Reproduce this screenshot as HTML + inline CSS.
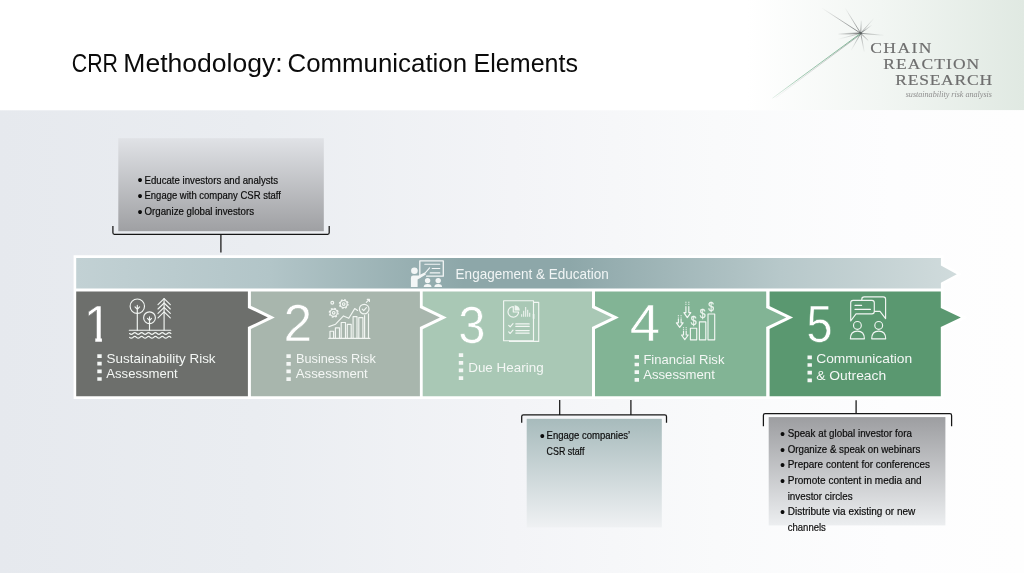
<!DOCTYPE html>
<html lang="en">
<head>
<meta charset="utf-8">
<title>CRR Methodology: Communication Elements</title>
<style>
html,body{margin:0;padding:0;background:#fff;}
body{width:1024px;height:573px;overflow:hidden;font-family:"Liberation Sans",sans-serif;}
svg{display:block;will-change:transform;}
text{font-family:"Liberation Sans",sans-serif;}
.serif{font-family:"Liberation Serif",serif;}
.lbl{font-size:12.6px;fill:#f4f7f5;}
.num{font-size:51.5px;fill:#ffffff;stroke-width:0.55px;paint-order:fill stroke;}
.bul{font-size:10.3px;fill:#0a0a0a;stroke:#0a0a0a;stroke-width:0.18px;}
.bul .b{font-size:14.5px;stroke:none;}
.ico{fill:none;stroke:#f2f6f3;stroke-width:1.15;stroke-linecap:round;stroke-linejoin:round;}
.dots{stroke:#f4f7f5;stroke-width:4.4;stroke-dasharray:3.7 3.95;fill:none;}
.brk{fill:none;stroke:#161616;stroke-width:1.25;}
</style>
</head>
<body>
<svg width="1024" height="573" viewBox="0 0 1024 573">
<defs>
  <linearGradient id="gHead" x1="0" y1="0" x2="1" y2="0">
    <stop offset="0" stop-color="#ffffff"/>
    <stop offset="0.73" stop-color="#ffffff"/>
    <stop offset="0.86" stop-color="#f2f6f3"/>
    <stop offset="1" stop-color="#e0e9e2"/>
  </linearGradient>
  <linearGradient id="gBody" x1="0" y1="0" x2="1" y2="0">
    <stop offset="0" stop-color="#e6e9ee"/>
    <stop offset="0.25" stop-color="#eaedf1"/>
    <stop offset="0.5" stop-color="#f3f4f7"/>
    <stop offset="0.7" stop-color="#f9fafb"/>
    <stop offset="0.87" stop-color="#fdfdfe"/>
    <stop offset="1" stop-color="#fefefe"/>
  </linearGradient>
  <linearGradient id="gBand" x1="0" y1="0" x2="1" y2="0">
    <stop offset="0" stop-color="#c2d1d4"/>
    <stop offset="0.22" stop-color="#b2c5c8"/>
    <stop offset="0.44" stop-color="#8da7a9"/>
    <stop offset="0.56" stop-color="#8da7a9"/>
    <stop offset="0.8" stop-color="#b7c8ca"/>
    <stop offset="1" stop-color="#d0dbdc"/>
  </linearGradient>
  <linearGradient id="gBoxA" x1="0" y1="0" x2="0" y2="1">
    <stop offset="0" stop-color="#e0e2e6"/>
    <stop offset="1" stop-color="#9fa0a3"/>
  </linearGradient>
  <linearGradient id="gBoxB" x1="0" y1="0" x2="0" y2="1">
    <stop offset="0" stop-color="#a7bbbc"/>
    <stop offset="1" stop-color="#eff1f3"/>
  </linearGradient>
  <linearGradient id="gBoxC" x1="0" y1="0" x2="0" y2="1">
    <stop offset="0" stop-color="#9d9ea1"/>
    <stop offset="1" stop-color="#eceef0"/>
  </linearGradient>
  <radialGradient id="rayL" gradientUnits="userSpaceOnUse" cx="860.7" cy="33.3" r="47"><stop offset="0" stop-color="#474b4c" stop-opacity="0.95"/><stop offset="0.5" stop-color="#5a5e5f" stop-opacity="0.5"/><stop offset="1" stop-color="#6a6e6f" stop-opacity="0"/></radialGradient>
  <radialGradient id="rayM" gradientUnits="userSpaceOnUse" cx="860.7" cy="33.3" r="30"><stop offset="0" stop-color="#474b4c" stop-opacity="0.95"/><stop offset="0.5" stop-color="#5a5e5f" stop-opacity="0.5"/><stop offset="1" stop-color="#6a6e6f" stop-opacity="0"/></radialGradient>
  <radialGradient id="rayM2" gradientUnits="userSpaceOnUse" cx="860.7" cy="33.3" r="24"><stop offset="0" stop-color="#474b4c" stop-opacity="0.9"/><stop offset="0.5" stop-color="#5a5e5f" stop-opacity="0.45"/><stop offset="1" stop-color="#6a6e6f" stop-opacity="0"/></radialGradient>
  <radialGradient id="rayS2" gradientUnits="userSpaceOnUse" cx="860.7" cy="33.3" r="20"><stop offset="0" stop-color="#474b4c" stop-opacity="0.9"/><stop offset="0.5" stop-color="#5a5e5f" stop-opacity="0.4"/><stop offset="1" stop-color="#6a6e6f" stop-opacity="0"/></radialGradient>
  <radialGradient id="rayS" gradientUnits="userSpaceOnUse" cx="860.7" cy="33.3" r="14.5"><stop offset="0" stop-color="#474b4c" stop-opacity="0.9"/><stop offset="0.5" stop-color="#5a5e5f" stop-opacity="0.45"/><stop offset="1" stop-color="#6a6e6f" stop-opacity="0"/></radialGradient>
  <radialGradient id="rayT" gradientUnits="userSpaceOnUse" cx="860.7" cy="33.3" r="108"><stop offset="0" stop-color="#55595a" stop-opacity="0.7"/><stop offset="0.6" stop-color="#6a6e6f" stop-opacity="0.3"/><stop offset="1" stop-color="#6a6e6f" stop-opacity="0.05"/></radialGradient>
  <radialGradient id="rayG" gradientUnits="userSpaceOnUse" cx="860.7" cy="33.3" r="110"><stop offset="0" stop-color="#4f9a6f" stop-opacity="0.95"/><stop offset="0.7" stop-color="#5fa57c" stop-opacity="0.75"/><stop offset="1" stop-color="#6fb08a" stop-opacity="0.2"/></radialGradient>
  <filter id="soft" filterUnits="userSpaceOnUse" x="760" y="0" width="140" height="110"><feGaussianBlur stdDeviation="0.4"/></filter>
</defs>

<!-- backgrounds -->
<rect x="0" y="0" width="1024" height="110.3" fill="url(#gHead)"/>
<rect x="0" y="110.3" width="1024" height="462.7" fill="url(#gBody)"/>

<!-- title -->
<text y="72.2" font-size="25.6" fill="#0b0b0b"><tspan x="71.8" textLength="46.2" lengthAdjust="spacingAndGlyphs">CRR</tspan> <tspan x="123.3" textLength="159.4" lengthAdjust="spacingAndGlyphs">Methodology:</tspan> <tspan x="287.5" textLength="179.6" lengthAdjust="spacingAndGlyphs">Communication</tspan> <tspan x="473.6" textLength="104.4" lengthAdjust="spacingAndGlyphs">Elements</tspan></text>

<!-- LOGO -->
<g id="logo">
  <g stroke-linecap="round" fill="none" filter="url(#soft)" opacity="0.85">
    <line x1="860.7" y1="33.3" x2="821.5" y2="7.8" stroke="url(#rayL)" stroke-width="0.9"/>
    <line x1="860.7" y1="33.3" x2="845" y2="7.8" stroke="url(#rayM)" stroke-width="0.8"/>
    <line x1="860.7" y1="33.3" x2="861.3" y2="21" stroke="url(#rayS)" stroke-width="0.9"/>
    <line x1="860.7" y1="33.3" x2="874" y2="18.2" stroke="url(#rayS2)" stroke-width="0.8"/>
    <line x1="860.7" y1="33.3" x2="872.5" y2="24.6" stroke="url(#rayS)" stroke-width="0.9"/>
    <line x1="860.7" y1="33.3" x2="884" y2="35.3" stroke="url(#rayM2)" stroke-width="0.8"/>
    <line x1="860.7" y1="33.3" x2="839" y2="34.1" stroke="url(#rayM2)" stroke-width="1.5"/>
    <line x1="860.7" y1="33.3" x2="836.5" y2="39.7" stroke="url(#rayM2)" stroke-width="0.8" opacity="0.6"/>
    <line x1="860.7" y1="33.3" x2="868" y2="40.3" stroke="url(#rayS)" stroke-width="0.9"/>
    <line x1="860.7" y1="33.3" x2="864.3" y2="52" stroke="url(#rayS2)" stroke-width="0.8"/>
    <line x1="860.7" y1="33.3" x2="851" y2="50.6" stroke="url(#rayS2)" stroke-width="0.8"/>
    <line x1="860.4" y1="34.4" x2="776" y2="97.6" stroke="url(#rayT)" stroke-width="0.8"/>
    <line x1="860" y1="33.8" x2="772.8" y2="98" stroke="url(#rayG)" stroke-width="0.9"/>
    <circle cx="860.7" cy="33.3" r="1.1" fill="#3f4344" opacity="0.8"/>
  </g>
  <g font-size="15.5" fill="#6e6e6e" stroke="#6e6e6e" stroke-width="0.18">
    <text class="serif" transform="translate(870.3 52.9) scale(1.13 1)" textLength="54.0" lengthAdjust="spacing">CHAIN</text>
    <text class="serif" transform="translate(883.2 69.1) scale(1.13 1)" textLength="85.0" lengthAdjust="spacing">REACTION</text>
    <text class="serif" transform="translate(895.3 85.2) scale(1.13 1)" textLength="85.6" lengthAdjust="spacing">RESEARCH</text>
  </g>
  <text class="serif" x="905.7" y="96.8" font-size="8.2" font-style="italic" fill="#8d8d8d" textLength="86.3" lengthAdjust="spacingAndGlyphs">sustainability risk analysis</text>
</g>

<!-- top-left note box -->
<rect x="118.3" y="138.2" width="205.5" height="93" fill="url(#gBoxA)"/>
<path class="brk" d="M112.9 226 V232.8 Q112.9 234.3 114.4 234.3 H327.7 Q329.2 234.3 329.2 232.8 V226 M220.9 234.3 V252.5"/>
<g class="bul">
  <text class="b" x="137.4" y="185.4">•</text><text x="144.5" y="183.5" textLength="133.6" lengthAdjust="spacingAndGlyphs">Educate investors and analysts</text>
  <text class="b" x="137.4" y="201.1">•</text><text x="144.5" y="199.2" textLength="136.4" lengthAdjust="spacingAndGlyphs">Engage with company CSR staff</text>
  <text class="b" x="137.4" y="216.7">•</text><text x="144.5" y="214.8" textLength="109.5" lengthAdjust="spacingAndGlyphs">Organize global investors</text>
</g>

<!-- white frame behind band + boxes -->
<path d="M73.6 255.2 H943.6 V263.6 L962 274.2 L943.6 284.6 V305.6 L967.6 317.4 L943.6 329.4 V399 H73.6 Z" fill="#ffffff"/>

<!-- band -->
<path d="M76.2 258 H940.9 V265.5 L956.8 274.3 L940.9 282.8 V288.6 H76.2 Z" fill="url(#gBand)"/>

<!-- boxes -->
<path d="M769.6 291.4 H940.8 V307.9 L960.8 317.4 L940.8 327.1 V396.3 H769.6 Z" fill="#5a9870"/>
<path d="M766.2 304.4 L793.1 317.4 L766.2 330.5 Z" fill="#ffffff"/>
<path d="M595.0 291.4 H766.2 V307.9 L786.2 317.4 L766.2 327.1 V396.3 H595.0 Z" fill="#82b495"/>
<path d="M592.0 304.4 L618.9 317.4 L592.0 330.5 Z" fill="#ffffff"/>
<path d="M422.7 291.4 H592.0 V307.9 L612.0 317.4 L592.0 327.1 V396.3 H422.7 Z" fill="#a9c8b5"/>
<path d="M419.9 304.4 L446.8 317.4 L419.9 330.5 Z" fill="#ffffff"/>
<path d="M250.9 291.4 H419.9 V307.9 L439.9 317.4 L419.9 327.1 V396.3 H250.9 Z" fill="#a8b6ad"/>
<path d="M247.9 304.4 L274.8 317.4 L247.9 330.5 Z" fill="#ffffff"/>
<path d="M76.2 291.4 H247.9 V307.9 L267.9 317.4 L247.9 327.1 V396.3 H76.2 Z" fill="#6d6f6c"/>

<!-- band label -->
<text x="455.6" y="279.2" font-size="14.1" fill="#f1f5f5" textLength="153.3" lengthAdjust="spacingAndGlyphs">Engagement &amp; Education</text>

<!-- numbers -->
<clipPath id="c1"><path d="M80 298 H120 V337.9 H101.9 V344 H95.3 V337.9 H80 Z"/></clipPath>
<g clip-path="url(#c1)"><text class="num" stroke="#6d6f6c" x="83.5" y="341.6">1</text></g>
<text class="num" transform="translate(283.6 340.9) scale(1 1)" stroke="#a8b6ad">2</text>
<text class="num" transform="translate(458.3 342.6) scale(0.95 1)" stroke="#a9c8b5">3</text>
<text class="num" transform="translate(629.8 340.9) scale(1.06 1)" stroke="#82b495">4</text>
<text class="num" transform="translate(806.6 342.4) scale(0.91 1)" stroke="#5a9870">5</text>

<!-- dotted markers -->
<path class="dots" d="M99.5 354.2 V381.2"/>
<path class="dots" d="M288.6 354.3 V381.3"/>
<path class="dots" d="M461 353.3 V380.3"/>
<path class="dots" d="M636.8 355 V382"/>
<path class="dots" d="M809.7 355.5 V382.5"/>

<!-- labels -->
<g class="lbl">
  <text x="106.6" y="362.7" textLength="109" lengthAdjust="spacingAndGlyphs">Sustainability Risk</text>
  <text x="106.3" y="378.4" textLength="71.4" lengthAdjust="spacingAndGlyphs">Assessment</text>
  <text x="296" y="362.7" textLength="79.8" lengthAdjust="spacingAndGlyphs">Business Risk</text>
  <text x="295.8" y="378.4" textLength="72" lengthAdjust="spacingAndGlyphs">Assessment</text>
  <text x="468.2" y="371.7" textLength="75.5" lengthAdjust="spacingAndGlyphs">Due Hearing</text>
  <text x="643.4" y="363.5" textLength="81" lengthAdjust="spacingAndGlyphs">Financial Risk</text>
  <text x="643.2" y="379.2" textLength="71.6" lengthAdjust="spacingAndGlyphs">Assessment</text>
  <text x="816.2" y="363" textLength="96" lengthAdjust="spacingAndGlyphs">Communication</text>
  <text x="816.2" y="379.7" textLength="70" lengthAdjust="spacingAndGlyphs">&amp; Outreach</text>
</g>

<!-- ICONS -->
<g id="icons">
  <!-- band icon: presenter -->
  <g fill="#f3f6f6" stroke="none">
    <circle cx="414.4" cy="270.8" r="3.3"/>
    <path d="M410.9 287.1 V277.9 Q410.9 275.6 413.2 275.6 H418.6 L424.6 272.4 L425.9 274.6 L417.6 279.6 V287.1 Z"/>
    <circle cx="427.6" cy="280.6" r="2.7"/>
    <circle cx="438.2" cy="280.6" r="2.7"/>
    <path d="M423.7 287.1 Q423.7 284.1 427.6 284.1 Q431.5 284.1 431.5 287.1 Z"/>
    <path d="M434.3 287.1 Q434.3 284.1 438.2 284.1 Q442.1 284.1 442.1 287.1 Z"/>
  </g>
  <g fill="none" stroke="#f3f6f6" stroke-linecap="round" stroke-linejoin="round">
    <path d="M419.8 277.6 V260.9 H443.3 V276.2 H426.6" stroke-width="1.3"/>
    <path d="M424.8 264.2 H439.8 M432.2 268.5 H439.8 M430.2 272.9 H439.8" stroke-width="1.1"/>
    <path d="M424.6 273.6 L429.6 267.8" stroke-width="1.1"/>
  </g>

  <!-- 1: trees -->
  <g class="ico">
    <circle cx="137.3" cy="306.2" r="7.2"/>
    <path d="M137.3 330.2 V305.4 M137.3 309.3 L135 306.8 M137.3 309.3 L139.6 306.8"/>
    <circle cx="149.5" cy="317.7" r="5.9"/>
    <path d="M149.5 330.2 V316.8 M149.5 320.6 L147.5 318.4 M149.5 320.6 L151.5 318.4"/>
    <path d="M164.1 330.2 V298.6"/>
    <path d="M158 304.6 L164.1 298.6 L170.3 304.6 M158 309 L164.1 303 L170.3 309 M158 313.4 L164.1 307.4 L170.3 313.4 M158 317.8 L164.1 311.8 L170.3 317.8"/>
    <path d="M129.3 330.2 H170.8"/>
    <path d="M129.6 333.5 q1.72 1.7 3.44 0 t3.44 0 t3.44 0 t3.44 0 t3.44 0 t3.44 0 t3.44 0 t3.44 0 t3.44 0 t3.44 0 t3.44 0 t3.44 0"/>
    <path d="M129.6 337.3 q1.72 1.7 3.44 0 t3.44 0 t3.44 0 t3.44 0 t3.44 0 t3.44 0 t3.44 0 t3.44 0 t3.44 0 t3.44 0 t3.44 0 t3.44 0"/>
  </g>

  <!-- 2: chart with gears -->
  <g class="ico" stroke-width="1.05">
    <path d="M328.8 338.4 H369.9"/>
    <path d="M330 338.4 V331.2 H333.6 V338.4 M335.4 338.4 V327.8 H339.5 V338.4 M341.2 338.4 V322.5 H345.5 V338.4 M347.3 338.4 V324.4 H351.2 V338.4 M353.1 338.4 V316.6 H357 V338.4 M358.8 338.4 V317.6 H362.9 V338.4 M364.6 338.4 V315.5 M368.5 338.4 V313.8"/>
    <path d="M328.9 326.6 L335.6 324.2 L343.5 315.9 L348.8 318.3 L354.7 308.6 L357.6 310.4"/>
    <circle cx="364.2" cy="309.1" r="4.8"/>
    <path d="M362.2 309.2 L363.7 310.7 L366.4 307.7"/>
    <path d="M366.3 302.3 L369.3 299.4 M367.2 299.3 H369.4 V301.5"/>
    <circle cx="332.3" cy="302.7" r="1.4"/>
    <circle cx="343.7" cy="304" r="3.5"/>
    <circle cx="343.7" cy="304" r="1.3"/>
    <circle cx="333.7" cy="312.8" r="3.6"/>
    <circle cx="333.7" cy="312.8" r="1.3"/>
  </g>
  <g fill="none" stroke="#f2f6f3" stroke-width="1.3">
    <circle cx="343.7" cy="304" r="4.3" stroke-dasharray="1.69 1.69"/>
    <circle cx="333.7" cy="312.8" r="4.4" stroke-dasharray="1.73 1.73"/>
  </g>

  <!-- 3: report -->
  <g class="ico" stroke="#eef5f0" stroke-width="1.1">
    <rect x="503.6" y="300.7" width="29.9" height="40"/>
    <path d="M533.5 302.3 H538.7 V341.4 H509.5 V340.7"/>
    <path d="M513.3 306.6 A5.3 5.3 0 1 0 518.6 312 H513.3 Z"/>
    <path d="M515.8 323.9 H529.2 M515.8 326.4 H529.2 M515.8 330.6 H529.2 M515.8 333.1 H529.2"/>
    <path d="M508.7 325.3 L510.2 326.9 L513 323.6 M508.7 331.9 L510.2 333.5 L513 330.2"/>
    <path d="M521.7 316.4 V314.6 M523.7 316.4 V311.2 M525.7 316.4 V307.4 M527.7 316.4 V310.2 M529.7 316.4 V313.2" stroke-width="1"/>
    <path d="M533.6 314.5 V318.5" stroke-width="1.6"/>
  </g>
  <path d="M514.6 305.3 A5.2 5.2 0 0 1 519.8 310.6 H514.6 Z" fill="#eef5f0"/>

  <!-- 4: finance -->
  <g class="ico" stroke="#eff6f1" stroke-width="1.1">
    <rect x="690.4" y="328.2" width="6.3" height="11.6"/>
    <rect x="699.4" y="321.9" width="6.4" height="17.9"/>
    <rect x="708" y="314" width="6.7" height="25.8"/>
    <!-- arrows -->
    <path d="M685.9 306.5 V312.6 H683.9 L687.3 317.6 L690.8 312.6 H688.8 V306.5"/>
    <path d="M685.9 301.8 V305.2 M688.8 301.8 V305.2" stroke-dasharray="1 0.9" stroke-linecap="butt"/>
    <path d="M678.4 318.7 V322.8 H676.4 L679.7 327.4 L683.1 322.8 H681.1 V318.7"/>
    <path d="M678.4 315.3 V317.8 M681.1 315.3 V317.8" stroke-dasharray="1 0.9" stroke-linecap="butt"/>
    <path d="M683.5 331 V335 H681.5 L684.8 339.7 L688.2 335 H686.2 V331"/>
    <path d="M683.5 327.3 V330 M686.2 327.3 V330" stroke-dasharray="1 0.9" stroke-linecap="butt"/>
  </g>
  <g font-size="13" fill="#eff6f1" text-anchor="middle" stroke="#eff6f1" stroke-width="0.25">
    <text transform="translate(693.6 325.2) scale(0.8 1)">$</text>
    <text transform="translate(702.7 318.4) scale(0.8 1)">$</text>
    <text transform="translate(711.2 310.9) scale(0.8 1)">$</text>
  </g>

  <!-- 5: chat -->
  <g class="ico" stroke="#eef5f0" stroke-width="1.15">
    <path d="M850.7 321 V302.8 Q850.7 300.4 853.1 300.4 H871.9 Q874.3 300.4 874.3 302.8 V311.4 Q874.3 313.8 871.9 313.8 H856 Z"/>
    <path d="M861.8 300.2 V299.2 Q861.8 296.9 864.2 296.9 H883.2 Q885.6 296.9 885.6 299.2 V318.6 L880 311.3 H874.5"/>
    <path d="M855 305.4 H861.6 M855 309.4 H870.4"/>
    <circle cx="857.4" cy="325.4" r="3.9"/>
    <circle cx="878.7" cy="325.4" r="3.9"/>
    <path d="M850.4 338.8 Q850.4 331.1 857.4 331.1 Q864.4 331.1 864.4 338.8 Z"/>
    <path d="M871.7 338.8 Q871.7 331.1 878.7 331.1 Q885.7 331.1 885.7 338.8 Z"/>
  </g>
</g>

<!-- bottom middle note -->
<rect x="526.7" y="418.8" width="135.1" height="108.6" fill="url(#gBoxB)"/>
<path class="brk" d="M521.7 422.7 V416.6 Q521.7 414.9 523.4 414.9 H664.8 Q666.5 414.9 666.5 416.6 V422.7 M559.7 400 V414.9 M630.9 400 V414.9"/>
<g class="bul">
  <text class="b" x="539.8" y="441.2">•</text><text x="546.6" y="439.3" textLength="83.5" lengthAdjust="spacingAndGlyphs">Engage companies’</text>
  <text x="546.6" y="454.8" textLength="37.8" lengthAdjust="spacingAndGlyphs">CSR staff</text>
</g>

<!-- bottom right note -->
<rect x="768.7" y="417.1" width="176.7" height="108.3" fill="url(#gBoxC)"/>
<path class="brk" d="M763.4 426.3 V415.4 Q763.4 413.7 765.1 413.7 H949.9 Q951.6 413.7 951.6 415.4 V426.3 M856.1 400.3 V413.7"/>
<g class="bul">
  <text class="b" x="780.0" y="439.0">•</text><text x="787.7" y="437.1" textLength="124.2" lengthAdjust="spacingAndGlyphs">Speak at global investor fora</text>
  <text class="b" x="780.0" y="454.6">•</text><text x="787.7" y="452.7" textLength="132.6" lengthAdjust="spacingAndGlyphs">Organize &amp; speak on webinars</text>
  <text class="b" x="780.0" y="470.2">•</text><text x="787.7" y="468.3" textLength="142.4" lengthAdjust="spacingAndGlyphs">Prepare content for conferences</text>
  <text class="b" x="780.0" y="485.8">•</text><text x="787.7" y="483.9" textLength="134" lengthAdjust="spacingAndGlyphs">Promote content in media and</text>
  <text x="787.7" y="499.6" textLength="65" lengthAdjust="spacingAndGlyphs">investor circles</text>
  <text class="b" x="780.0" y="517.1">•</text><text x="787.7" y="515.2" textLength="127.6" lengthAdjust="spacingAndGlyphs">Distribute via existing or new</text>
  <text x="787.7" y="530.8" textLength="38.2" lengthAdjust="spacingAndGlyphs">channels</text>
</g>
</svg>
</body>
</html>
